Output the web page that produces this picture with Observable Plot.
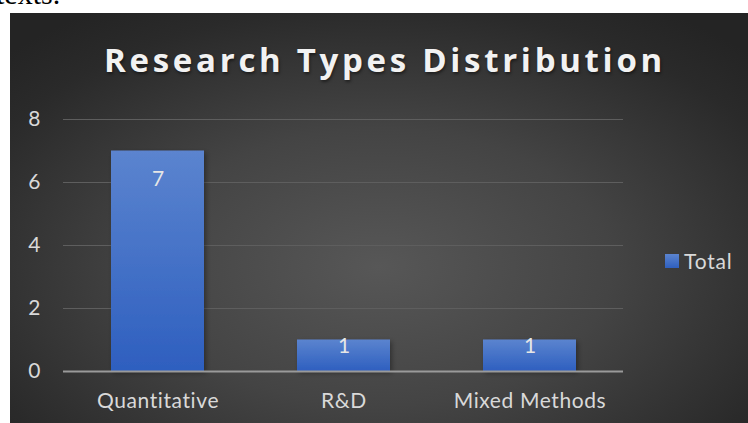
<!DOCTYPE html>
<html>
<head>
<meta charset="utf-8">
<script src="https://cdn.jsdelivr.net/npm/d3@7"></script>
<script src="https://cdn.jsdelivr.net/npm/@observablehq/plot@0.6"></script>
<style>
  html, body { margin: 0; padding: 0; background: #fff; width: 748px; height: 423px; overflow: hidden; }
  #doc { position: absolute; left: -4px; top: -21px; font-family: "Liberation Serif", "DejaVu Serif", serif; font-size: 30px; color: #000; line-height: 1; }
  #panel { position: absolute; left: 10px; top: 13px; width: 738px; height: 410px;
    background: radial-gradient(ellipse 70% 75% at 50% 62%, #575757 0%, #444 45%, #2a2a2a 85%, #242424 100%); overflow: hidden; }
  #title { position: absolute; left: 6px; width: 738px; top: 30px; text-align: center; color: #f2f2f2;
    font-family: "Open Sans", sans-serif; font-weight: 700; font-size: 33px; letter-spacing: 3.7px; line-height: 1;
    text-shadow: 1px 2px 3px rgba(0,0,0,0.45); }
  #legend { position: absolute; left: 655px; top: 235px; display: flex; align-items: center; color: #d9d9d9;
    font-family: Lato, sans-serif; font-size: 21px; letter-spacing: 0.8px; }
  #legend .sw { width: 14px; height: 14px; background: linear-gradient(#5b84cf, #2f60bf); margin-right: 5px; }
  #chart { position: absolute; left: 0; top: 0; }
  #chart svg g[aria-label="x-axis tick label"] text { letter-spacing: 0.6px; }
</style>
</head>
<body>
<div id="doc">texts.</div>
<div id="panel">
  <div id="title">Research Types Distribution</div>
  <div id="chart"></div>
  <div id="legend"><div class="sw"></div><span>Total</span></div>
</div>
<script>
const categories = ["Quantitative", "R&D", "Mixed Methods"];
const totals = [7, 1, 1];
const yTicks = [0, 2, 4, 6, 8];
const seriesName = "Total";

const data = categories.map((c, i) => ({category: c, value: totals[i]}));

const defs = () => {
  const svgNS = "http://www.w3.org/2000/svg";
  const g = document.createElementNS(svgNS, "defs");
  g.innerHTML = `
    <linearGradient id="barGrad" x1="0" y1="0" x2="0" y2="1">
      <stop offset="0" stop-color="#5b84cf"/>
      <stop offset="1" stop-color="#2e5fbf"/>
    </linearGradient>
    <filter id="shadow" x="-20%" y="-20%" width="140%" height="140%">
      <feDropShadow dx="2" dy="2" stdDeviation="2.5" flood-color="#000" flood-opacity="0.35"/>
    </filter>`;
  return g;
};

const chart = Plot.plot({
  width: 738,
  height: 410,
  marginLeft: 53,
  marginRight: 125,
  marginTop: 106,
  marginBottom: 52,
  style: {background: "transparent", color: "#d9d9d9", fontFamily: "Lato, sans-serif", fontSize: "21px", overflow: "visible"},
  x: {domain: categories, paddingInner: 0.5, paddingOuter: 0.25, label: null},
  y: {domain: [0, 8], ticks: yTicks, label: null},
  marks: [
    defs,
    Plot.gridY(yTicks, {stroke: "#5e5e5e", strokeOpacity: 1, strokeWidth: 1}),
    Plot.barY(data, {x: "category", y: "value", fill: "url(#barGrad)"}),
    Plot.ruleY([0], {stroke: "#9a9a9a", strokeWidth: 2}),
    Plot.axisY(yTicks, {tickSize: 0, tickPadding: 23, fill: "#d9d9d9", fontSize: 21}),
    Plot.axisX({tickSize: 0, tickPadding: 22, fill: "#d9d9d9", fontSize: 21}),
    Plot.text(data.filter(d => d.value > 2), {x: "category", y: "value", text: d => String(d.value),
      fill: "#e6e6e6", fontSize: 21, dy: 28}),
    Plot.text(data.filter(d => d.value <= 2), {x: "category", y: "value", text: d => String(d.value),
      fill: "#e6e6e6", fontSize: 21, dy: 6})
  ]
});

chart.querySelectorAll("g[aria-label='bar'] rect").forEach(r => r.setAttribute("filter", "url(#shadow)"));
document.getElementById("chart").appendChild(chart);
</script>
</body>
</html>
